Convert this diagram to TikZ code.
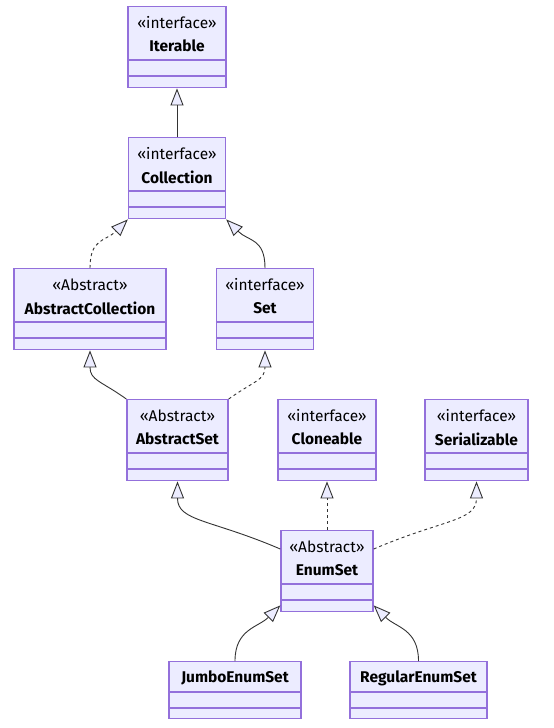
\documentclass[tikz,border=0pt]{standalone}
\usepackage{fontspec}
\setmainfont{Fira Sans}
\usetikzlibrary{arrows.meta,calc}
\definecolor{clsfill}{HTML}{ECECFF}
\definecolor{clsborder}{HTML}{9370DB}
\definecolor{edgecol}{HTML}{333333}
\tikzset{
  clsbox/.style={draw=clsborder, fill=clsfill, line width=1.4pt, rectangle, inner sep=0pt},
  clsdiv/.style={draw=clsborder, line width=1.4pt},
  stereo/.style={font=\fontsize{15.5}{18}\selectfont, inner sep=0pt, text=black},
  clsname/.style={font=\fontsize{15.5}{18}\selectfont\bfseries, inner sep=0pt, text=black},
  inherit/.style={draw=edgecol, line width=0.9pt, -{Triangle[length=17pt,width=13pt,fill=clsfill]}},
  realize/.style={inherit, dash pattern=on 3pt off 3pt}
}
\newcommand\stereocls[6]{%
  \node[clsbox, minimum width=#4pt, minimum height=81pt, anchor=north] (#1) at (#2,#3) {};
  \draw[clsdiv] ($(#1.north west)+(0,54)$) -- ($(#1.north east)+(0,54)$);
  \draw[clsdiv] ($(#1.north west)+(0,70)$) -- ($(#1.north east)+(0,70)$);
  \node[stereo] (#1-st) at ($(#1.north)+(0,17)$) {«#5»};
  \node[clsname] (#1-nm) at ($(#1.north)+(0,40)$) {#6};
}
\newcommand\plaincls[5]{%
  \node[clsbox, minimum width=#4pt, minimum height=57pt, anchor=north] (#1) at (#2,#3) {};
  \draw[clsdiv] ($(#1.north west)+(0,31)$) -- ($(#1.north east)+(0,31)$);
  \draw[clsdiv] ($(#1.north west)+(0,47)$) -- ($(#1.north east)+(0,47)$);
  \node[clsname] (#1-nm) at ($(#1.north)+(0,17)$) {#5};
}
\begin{document}
\begin{tikzpicture}[x=1pt,y=-1pt]
  \path[use as bounding box, fill=white] (0,0) rectangle (554,728);
  \stereocls{iter}{177}{6}{98}{interface}{Iterable}
  \stereocls{coll}{177}{137}{97}{interface}{Collection}
  \stereocls{acoll}{90}{268}{152}{Abstract}{AbstractCollection}
  \stereocls{set}{265}{268}{97}{interface}{Set}
  \stereocls{aset}{177.5}{399}{101}{Abstract}{AbstractSet}
  \stereocls{clone}{327}{399}{98}{interface}{Cloneable}
  \stereocls{ser}{476.5}{399}{103}{interface}{Serializable}
  \stereocls{enum}{327}{530}{92}{Abstract}{EnumSet}
  \plaincls{jumbo}{235}{661}{132}{JumboEnumSet}
  \plaincls{reg}{418.5}{661}{137}{RegularEnumSet}

  \draw[inherit] (coll.north) -- (iter.south);
  \draw[realize] (acoll.north) .. controls +(0,-30) and +(-22,22) .. (coll.south west);
  \draw[inherit] (set.north) .. controls +(0,-30) and +(22,22) .. (coll.south east);
  \draw[inherit] (aset.north west) .. controls +(-25,-18) and +(0,30) .. (acoll.south);
  \draw[realize] (aset.north east) .. controls +(25,-18) and +(0,30) .. (set.south);
  \coordinate (enumL) at ($(enum.north west)+(0,19)$);
  \coordinate (enumR) at ($(enum.north east)+(0,19)$);
  \draw[inherit] (enumL) .. controls +(-70,-30) and +(0,40) .. (aset.south);
  \draw[realize] (enum.north) -- (clone.south);
  \draw[realize] (enumR) .. controls +(70,-30) and +(0,40) .. (ser.south);
  \coordinate (enumBL) at ($(enum.south west)+(0,-7)$);
  \coordinate (enumBR) at ($(enum.south east)+(0,-7)$);
  \draw[inherit] (jumbo.north) .. controls +(0,-32) and +(-22,22) .. (enumBL);
  \draw[inherit] (reg.north) .. controls +(0,-32) and +(22,22) .. (enumBR);
\end{tikzpicture}
\end{document}
